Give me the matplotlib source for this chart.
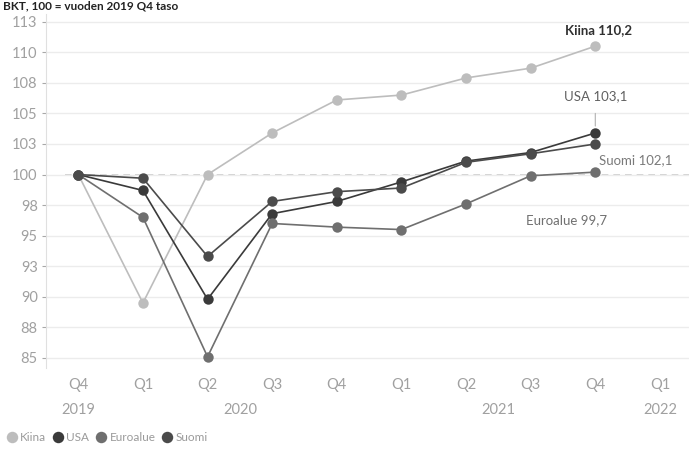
import matplotlib.pyplot as plt
from matplotlib.transforms import blended_transform_factory

plt.rcParams['font.family'] = ['Lato', 'DejaVu Sans']

# neljännekset Q4/2019 - Q1/2022
neljannekset = ["Q4", "Q1", "Q2", "Q3", "Q4", "Q1", "Q2", "Q3", "Q4", "Q1"]
vuodet = ["2019", "2020", "2021", "2022"]
vuosi_kohdat = [0, 2.5, 6.5, 9]

kiina = [100, 89.5, 100.0, 103.4, 106.1, 106.5, 107.9, 108.7, 110.5]
usa = [100, 98.7, 89.8, 96.8, 97.8, 99.4, 101.1, 101.8, 103.4]
euroalue = [100, 96.5, 85.1, 96.0, 95.7, 95.5, 97.6, 99.9, 100.2]
suomi = [100, 99.7, 93.3, 97.8, 98.6, 98.9, 101.0, 101.7, 102.5]

y_tikit = [85, 87.5, 90, 92.5, 95, 97.5, 100, 102.5, 105, 107.5, 110, 112.5]
y_tekstit = ["85", "88", "90", "93", "95", "98", "100", "103", "105", "108", "110", "113"]

sarjat = [
    ("Kiina", kiina, "#bdbdbd"),
    ("USA", usa, "#3a3a3a"),
    ("Euroalue", euroalue, "#6f6f6f"),
    ("Suomi", suomi, "#4b4b4b"),
]

fig = plt.figure(figsize=(6.89, 4.61), dpi=100)
ax = fig.add_axes([46 / 689, (461 - 368) / 461, (689 - 46) / 689, (368 - 14) / 461])

x = list(range(len(kiina)))
for nimi, arvot, vari in sarjat:
    ax.plot(x, arvot, color=vari, lw=1.2, marker="o", ms=7.5,
            markeredgewidth=0, label=nimi, zorder=3)

# 100-taso katkoviivana
ax.axhline(100, xmin=0.03, color="#c8c8c8", lw=1.2, ls=(0, (4, 3)), zorder=1)

ax.set_ylim(84.18, 113.13)
ax.set_xlim(-0.5, 9.45)
ax.set_yticks(y_tikit)
ax.set_yticklabels(y_tekstit)
ax.set_xticks(range(len(neljannekset)))
ax.set_xticklabels(neljannekset)
ax.grid(axis="y", color="#ececec", lw=1)
ax.tick_params(axis="y", colors="#a8a8a8", labelsize=10.5, length=3, width=0.8,
               pad=3, labelcolor="#a0a0a0")
ax.tick_params(axis="x", colors="#a0a0a0", labelsize=10.5, length=0, pad=7)
for s in ["top", "right", "bottom"]:
    ax.spines[s].set_visible(False)
ax.spines["left"].set_color("#e0e0e0")

trans = blended_transform_factory(ax.transData, ax.transAxes)
for kohta, vuosi in zip(vuosi_kohdat, vuodet):
    ax.text(kohta, -0.12, vuosi, transform=trans, ha="center", va="center",
            fontsize=10.5, color="#a0a0a0")

# nimet viimeisten pisteiden viereen
ax.annotate("Kiina 110,2", xy=(8, kiina[-1]), xytext=(8.05, 111.8),
            ha="center", va="center", fontsize=9.5, color="#303030",
            fontweight="bold")
ax.annotate("USA 103,1", xy=(8, usa[-1]), xytext=(8, 106.4),
            ha="center", va="center", fontsize=9.5, color="#606060",
            arrowprops=dict(arrowstyle="-", color="#b0b0b0", lw=0.8,
                            shrinkA=6, shrinkB=5))
ax.text(8.05, 101.2, "Suomi 102,1", ha="left", va="center", fontsize=9.5,
        color="#7a7a7a")
ax.text(7.55, 96.3, "Euroalue 99,7", ha="center", va="center", fontsize=9.5,
        color="#707070")

fig.text(0.005, 0.999, "BKT, 100 = vuoden 2019 Q4 taso", ha="left", va="top",
         fontsize=8.5, color="#222222", fontweight="bold")

leg = fig.legend(loc="lower left", bbox_to_anchor=(-0.005, 0.015), ncol=4,
                 frameon=False, fontsize=8.5, handlelength=0.8, handletextpad=0.3,
                 columnspacing=0.6, labelcolor="#9a9a9a", markerscale=1.1)
for h in leg.legend_handles:
    h.set_linestyle("")

fig.savefig("out.png", dpi=100)
